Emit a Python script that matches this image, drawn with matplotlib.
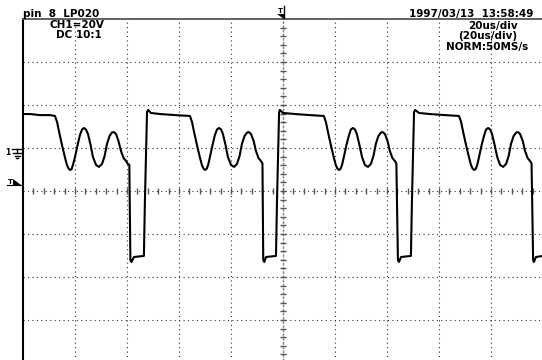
import matplotlib
matplotlib.use('Agg')
import matplotlib.pyplot as plt
import numpy as np

# trace: time in us from left edge, volts above ground
t_us = [0.0, 2.7, 6.5, 10.4,
        12.3, 13.1, 13.9, 15.0, 16.2, 16.9, 17.5, 18.1, 18.7, 19.2, 20.0, 21.0,
        21.9, 22.7, 23.5, 24.2, 25.0, 26.0, 26.9, 28.1, 29.2, 30.4, 31.4, 32.3,
        33.3, 34.2, 35.0, 35.8, 36.7, 37.7, 38.7, 39.6, 40.2,
        40.9, 41.3, 41.7, 42.7, 46.5, 46.9, 47.7, 48.1,
        49.2, 52.7, 58.5,
        64.2, 65.0, 65.8, 66.9, 68.1, 68.8, 69.4, 70.0, 70.6, 71.2, 71.9, 72.9,
        73.8, 74.6, 75.4, 76.2, 76.9, 77.9, 78.8, 80.0, 81.2, 82.3, 83.3, 84.2,
        85.2, 86.2, 86.9, 87.7, 88.7, 89.6, 90.6, 91.5, 92.1,
        92.4, 92.8, 93.5, 97.3, 97.7, 98.5, 98.8,
        100.0, 104.6, 110.4,
        115.7, 116.5, 117.3, 118.4, 119.6, 120.3, 120.9, 121.5, 122.1, 122.7,
        123.4, 124.4, 125.4, 126.1, 126.9, 127.7, 128.4, 129.4, 130.4, 131.5,
        132.7, 133.8, 134.8, 135.7, 136.7, 137.7, 138.4, 139.2, 140.2, 141.1,
        142.1, 143.0, 143.6,
        144.2, 144.6, 145.4, 149.2, 149.6, 150.4, 150.8,
        152.3, 156.5, 162.3,
        167.7, 168.5, 169.3, 170.4, 171.6, 172.3, 172.9, 173.5, 174.1, 174.7,
        175.4, 176.4, 177.4, 178.1, 178.9, 179.7, 180.4, 181.4, 182.4, 183.5,
        184.7, 185.8, 186.8, 187.7, 188.7, 189.7, 190.4, 191.2, 192.2, 193.1,
        194.1, 195.0, 195.6,
        196.2, 196.5, 197.3, 200.0]
volts = [15.8, 15.8, 15.3, 15.3,
         14.9, 12.1, 7.4, 1.4, -4.7, -7.9, -9.5, -10.2, -9.8, -7.9, -4.2, 1.4,
         6.0, 8.6, 9.3, 8.6, 6.5, 1.4, -4.2, -7.9, -8.8, -7.4, -3.7, 1.9,
         5.6, 7.2, 7.4, 6.5, 3.3, -1.4, -4.7, -6.0, -7.2,
         -7.9, -52.1, -53.0, -50.7, -50.2, -24.2, 16.7, 17.7,
         16.3, 15.8, 15.3,
         14.9, 12.1, 7.4, 1.4, -4.7, -7.9, -9.5, -10.2, -9.8, -7.9, -4.2, 1.4,
         6.0, 8.6, 9.3, 8.6, 6.5, 1.4, -4.2, -7.9, -8.8, -7.4, -3.7, 1.9,
         5.6, 7.2, 7.4, 6.5, 3.3, -1.4, -4.7, -6.0, -7.2,
         -52.1, -53.0, -50.7, -50.2, -24.2, 16.7, 17.7,
         16.3, 15.8, 15.3,
         14.9, 12.1, 7.4, 1.4, -4.7, -7.9, -9.5, -10.2, -9.8, -7.9,
         -4.2, 1.4, 6.0, 8.6, 9.3, 8.6, 6.5, 1.4, -4.2, -7.9,
         -8.8, -7.4, -3.7, 1.9, 5.6, 7.2, 7.4, 6.5, 3.3, -1.4,
         -4.7, -6.0, -7.2,
         -52.1, -53.0, -50.7, -50.2, -24.2, 16.7, 17.7,
         16.3, 15.8, 15.3,
         14.9, 12.1, 7.4, 1.4, -4.7, -7.9, -9.5, -10.2, -9.8, -7.9,
         -4.2, 1.4, 6.0, 8.6, 9.3, 8.6, 6.5, 1.4, -4.2, -7.9,
         -8.8, -7.4, -3.7, 1.9, 5.6, 7.2, 7.4, 6.5, 3.3, -1.4,
         -4.7, -6.0, -7.2,
         -52.1, -53.0, -50.7, -50.2]

t_range = (0, 200)        # 10 div x 20 us
v_range = (-100, 60)      # 8 div x 20 V, ground one div above centre
t_div = 20
v_div = 20
t_center = 100
v_center = -20

header_left = ['pin  8  LP020', 'CH1=20V', 'DC 10:1']
header_right = ['1997/03/13  13:58:49', '20us/div', '(20us/div)', 'NORM:50MS/s']

W, H = 542, 360
fig = plt.figure(figsize=(W / 100, H / 100), dpi=100)
fig.patch.set_facecolor('white')
ax = fig.add_axes([23 / W, -3 / H, 520 / W, 344 / H])
ax.set_xlim(*t_range)
ax.set_ylim(*v_range)
ax.set_xticks([])
ax.set_yticks([])
for s in ['right', 'bottom']:
    ax.spines[s].set_visible(False)
ax.spines['left'].set_color('black')
ax.spines['left'].set_linewidth(1.5)
ax.spines['top'].set_color('#555555')
ax.spines['top'].set_linewidth(1.3)

dots = (0, (1, 3))
for xv in np.arange(t_range[0] + t_div, t_range[1], t_div):
    if xv != t_center:
        ax.axvline(xv, color='#333333', lw=0.8, ls=dots, zorder=1)
for yv in np.arange(v_range[0] + v_div, v_range[1], v_div):
    ax.axhline(yv, color='#333333', lw=0.8, ls=dots, zorder=1)

# centre cross with minor graduations
ax.axvline(t_center, color='#888888', lw=1.0, ls=(0, (2, 1)), zorder=1)
minor_t = np.arange(t_range[0] + t_div / 5, t_range[1], t_div / 5)
ax.plot(minor_t, np.full_like(minor_t, v_center), ls='none', marker='|',
        ms=4, mew=1.0, color='#555555', zorder=2)
minor_v = np.arange(v_range[0] + v_div / 5, v_range[1], v_div / 5)
ax.plot(np.full_like(minor_v, t_center), minor_v, ls='none', marker='_',
        ms=5, mew=1.0, color='#555555', zorder=2)

ax.plot(t_us, volts, color='black', lw=1.5, solid_joinstyle='round', zorder=3)

# overlay in pixel coordinates for the screen annotations
ov = fig.add_axes([0, 0, 1, 1], facecolor='none')
ov.set_xlim(0, W)
ov.set_ylim(H, 0)
ov.axis('off')

fkw = dict(family='DejaVu Sans', fontweight='bold', color='black',
           va='baseline', fontsize=7.5)
ov.text(23, 17, header_left[0], ha='left', **fkw)
ov.text(50, 28.5, header_left[1], ha='left', **fkw)
ov.text(56, 38.5, header_left[2], ha='left', **fkw)
ov.text(533, 17, header_right[0], ha='right', **fkw)
ov.text(493, 28.5, header_right[1], ha='center', **fkw)
ov.text(488, 39, header_right[2], ha='center', **fkw)
ov.text(487, 50, header_right[3], ha='center', **fkw)

# trigger position marker on top
ov.plot([283.5, 283.5], [6, 18], color='black', lw=1.0)
ov.text(280, 13, 'T', ha='center', va='baseline', family='DejaVu Sans',
        fontsize=5, fontweight='bold')
ov.fill([277, 283.5, 283.5], [13.5, 13.5, 18.5], color='black', lw=0)

# channel 1 ground marker
ov.text(8, 155, '1', ha='center', va='baseline', family='DejaVu Sans',
        fontsize=5.5, fontweight='bold')
ov.plot([12, 22], [149, 149], color='black', lw=1.0)
ov.plot([17, 17], [149, 153], color='black', lw=1.0)
ov.plot([13, 21], [153, 153], color='black', lw=1.0)
ov.plot([14.5, 19.5], [155.5, 155.5], color='black', lw=1.0)
ov.plot([16, 18], [158, 158], color='black', lw=1.0)

# trigger level marker
ov.text(10, 183.5, 'T', ha='center', va='baseline', family='DejaVu Sans',
        fontsize=5, fontweight='bold')
ov.fill([13, 13, 21], [179, 184.5, 184.5], color='black', lw=0)
ov.plot([7, 21], [184.8, 184.8], color='black', lw=0.8)

fig.savefig('out.png', dpi=100, facecolor='white')
